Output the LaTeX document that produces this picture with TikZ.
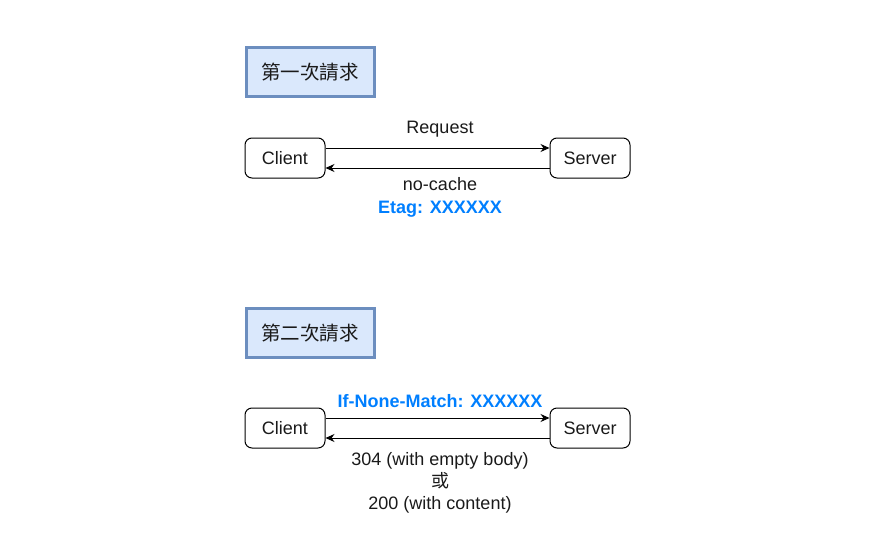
\documentclass[tikz,border=0pt]{standalone}
\usepackage{fontspec}
\setmainfont{Liberation Sans}
\newfontfamily\cjk{Noto Sans CJK TC}
\usetikzlibrary{arrows.meta}
\definecolor{titlefill}{HTML}{DAE8FC}
\definecolor{titledraw}{HTML}{6C8EBF}
\definecolor{tagblue}{HTML}{007FFF}
\definecolor{ink}{HTML}{1A1A1A}
\tikzset{
    titlebox/.style={draw=titledraw, fill=titlefill, line width=3pt, text=ink,
        minimum width=128pt, minimum height=49pt, font=\cjk\fontsize{19.5}{23}\selectfont},
    hostbox/.style={draw, rounded corners=7pt, line width=1pt, text=ink,
        minimum width=80pt, minimum height=40pt, font=\fontsize{18}{21}\selectfont},
    msg/.style={-{Stealth[length=9pt,width=8pt]}, line width=1pt},
    lbl/.style={font=\fontsize{18}{21}\selectfont, inner sep=0pt, text=ink},
    tag/.style={lbl, text=tagblue, font=\bfseries\fontsize{18}{21}\selectfont}
}
\begin{document}
\begin{tikzpicture}[x=1pt, y=-1pt]
\useasboundingbox (0,0) rectangle (885,559);

% ---- first request ----
\node[titlebox] (title1) at (310,72.5) {第一次請求};
\node[hostbox] (client1) at (285,158) {Client};
\node[hostbox] (server1) at (590,158) {Server};
\draw[msg] ([yshift=10pt]client1.east) -- ([yshift=10pt]server1.west);
\draw[msg] ([yshift=-10pt]server1.west) -- ([yshift=-10pt]client1.east);
\node[lbl] (req1) at (440,129.5) {Request};
\node[lbl] (resp1) at (440,184.5) {no-cache};
\node[tag] (etag) at (440,209.5) {Etag: XXXXXX};

% ---- second request ----
\node[titlebox] (title2) at (310,333) {第二次請求};
\node[hostbox] (client2) at (285,428) {Client};
\node[hostbox] (server2) at (590,428) {Server};
\draw[msg] ([yshift=10pt]client2.east) -- ([yshift=10pt]server2.west);
\draw[msg] ([yshift=-10pt]server2.west) -- ([yshift=-10pt]client2.east);
\node[tag] (match) at (440,401.5) {If-None-Match: XXXXXX};
\node[lbl, align=center] (resp2) at (440,482.5)
    {304 (with empty body)\\[1pt]{\cjk 或}\\[1pt]200 (with content)};

\end{tikzpicture}
\end{document}
